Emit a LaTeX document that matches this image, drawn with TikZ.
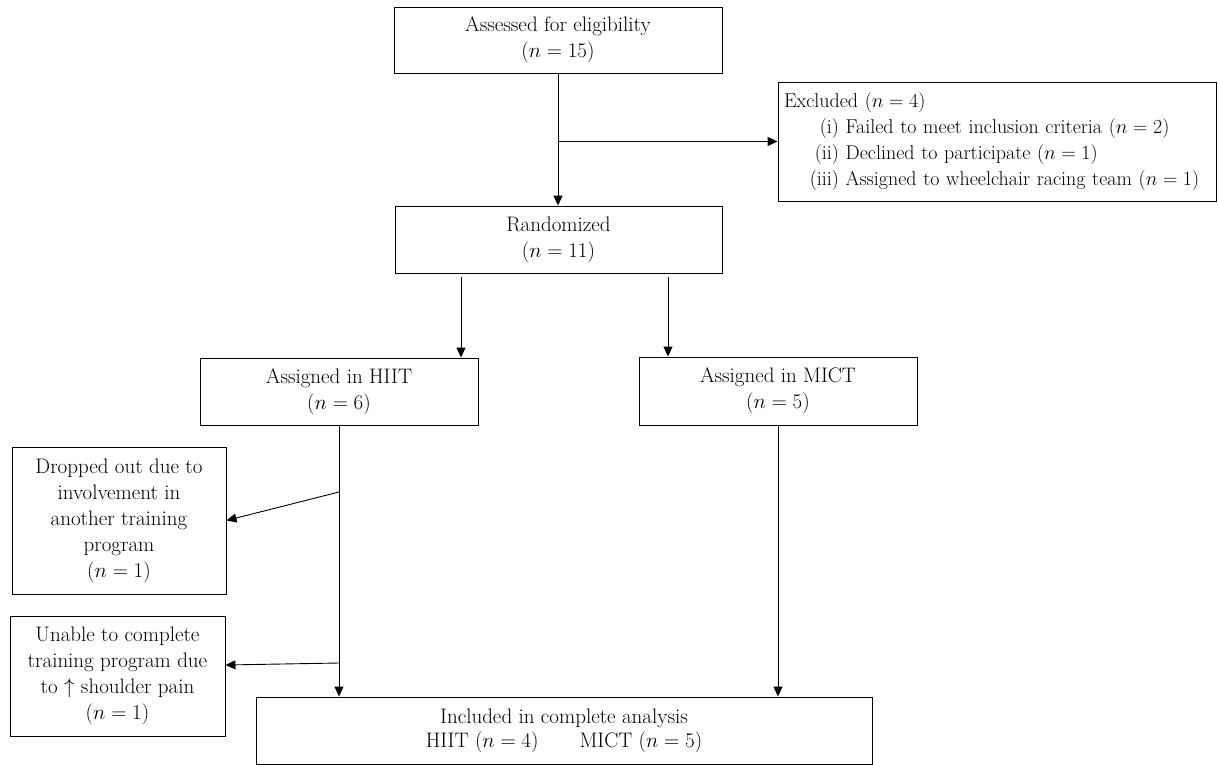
\documentclass[tikz,border=0pt]{standalone}
\usepackage{fix-cm}
\usetikzlibrary{arrows.meta}
\begin{document}
\begin{tikzpicture}[x=1pt,y=-1pt,
  box/.style={draw, line width=0.9pt, inner sep=0pt, align=center, font=\fontsize{21}{26}\selectfont},
  arr/.style={line width=0.9pt, -{Triangle[length=10pt,width=9pt]}}]
\useasboundingbox (0,0) rectangle (1218,765);

\node[box, minimum width=328pt, minimum height=66pt] (assess) at (558,40) {Assessed for eligibility\\($n = 15$)};
\node[box, minimum width=438pt, minimum height=119pt, text width=426pt, align=left, font=\fontsize{20}{26}\selectfont] (excl) at (997,141.5)
 {Excluded ($n = 4$)\\
  \mbox{\makebox[55pt][r]{(i)} Failed to meet inclusion criteria ($n = 2$)}\\
  \mbox{\makebox[55pt][r]{(ii)} Declined to participate ($n = 1$)}\\
  \mbox{\makebox[55pt][r]{(iii)} Assigned to wheelchair racing team ($n = 1$)}};
\node[box, minimum width=327pt, minimum height=67pt] (rand) at (558.5,239.5) {Randomized\\($n = 11$)};
\node[box, minimum width=278pt, minimum height=67pt] (hiit) at (339,391.5) {Assigned in HIIT\\($n = 6$)};
\node[box, minimum width=278pt, minimum height=68pt] (mict) at (778,391) {Assigned in MICT\\($n = 5$)};
\node[box, minimum width=214pt, minimum height=147pt] (drop) at (119,520.5)
 {Dropped out due to\\involvement in\\another training\\program\\($n = 1$)};
\node[box, minimum width=215pt, minimum height=120pt] (unable) at (117.5,676)
 {Unable to complete\\training program due\\to $\uparrow$ shoulder pain\\($n = 1$)};
\node[box, minimum width=616pt, minimum height=67pt, font=\fontsize{21}{24}\selectfont] (final) at (564,730.5)
 {Included in complete analysis\\HIIT ($n = 4$)\hspace{41pt}MICT ($n = 5$)};

\coordinate (r1) at (461,277);
\coordinate (r2) at (668,277);
\coordinate (d1) at (339,492);
\coordinate (u1) at (339,663);

\draw[arr] (assess.south) -- (assess.south |- rand.north);
\draw[arr] (assess.south |- excl.west) -- (excl.west);
\draw[arr] (r1) -- (r1 |- hiit.north);
\draw[arr] (r2) -- (r2 |- mict.north);
\draw[arr] (hiit.south) -- (hiit.south |- final.north);
\draw[arr] (mict.south) -- (mict.south |- final.north);
\draw[arr] (d1) -- (drop.east);
\draw[arr] (u1) -- ([yshift=11pt]unable.east);
\end{tikzpicture}
\end{document}
